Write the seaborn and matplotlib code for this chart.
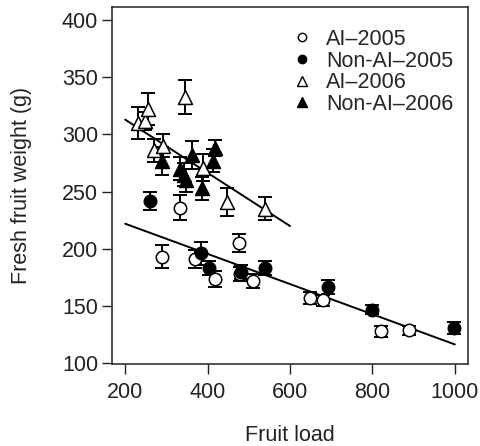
import numpy as np
import pandas as pd
import matplotlib
matplotlib.use("Agg")
import matplotlib.pyplot as plt
import seaborn as sns
from matplotlib.lines import Line2D

# ── Data ───────────────────────────────────────────────────────
# AI-2005 (open circles)
ai05_load = [289, 332, 370, 418, 476, 478, 511, 648, 681, 820, 888]
ai05_wt = [193, 236, 191, 174, 205, 178, 172, 157, 155, 128, 129]
ai05_err = [10, 11, 8, 7, 8, 6, 6, 5, 5, 5, 4]

# Non-AI-2005 (filled circles)
nai05_load = [261, 384, 404, 481, 540, 693, 800, 998]
nai05_wt = [242, 196, 183, 180, 183, 167, 147, 131]
nai05_err = [8, 10, 6, 6, 6, 6, 4, 5]

# AI-2006 (open triangles)
ai06_load = [232, 248, 255, 271, 293, 344, 390, 446, 540]
ai06_wt = [310, 312, 322, 286, 290, 333, 271, 241, 235]
ai06_err = [14, 8, 14, 10, 10, 15, 12, 12, 10]

# Non-AI-2006 (filled triangles)
nai06_load = [289, 332, 342, 348, 362, 387, 414, 418]
nai06_wt = [277, 270, 265, 260, 282, 253, 277, 288]
nai06_err = [12, 10, 10, 10, 12, 10, 10, 7]

# regression lines (end points)
line05_x = [200, 1000]
line05_y = [222, 116.5]
line06_x = [200, 600]
line06_y = [313, 220]

groups = [
    ("AI\u20132005", ai05_load, ai05_wt, ai05_err, "o", "white"),
    ("Non-AI\u20132005", nai05_load, nai05_wt, nai05_err, "o", "black"),
    ("AI\u20132006", ai06_load, ai06_wt, ai06_err, "^", "white"),
    ("Non-AI\u20132006", nai06_load, nai06_wt, nai06_err, "^", "black"),
]

INK = "#222222"
FS = 15.5

sns.set_theme(style="ticks")
plt.rcParams["font.family"] = ["Liberation Sans", "DejaVu Sans"]

fig = plt.figure(figsize=(4.8, 4.46), dpi=100)
ax = fig.add_axes([0.2333, 0.1839, 0.7417, 0.7993])

for name, xs, ys, es, mk, fc in groups:
    df = pd.DataFrame({"load": xs, "weight": ys})
    ax.errorbar(xs, ys, yerr=es, fmt="none", ecolor="black",
                elinewidth=1.4, capsize=5, capthick=1.4, zorder=2)
    sns.scatterplot(data=df, x="load", y="weight", marker=mk,
                    s=100 if mk == "^" else 80, facecolor=fc,
                    edgecolor="black", linewidth=1.1, ax=ax, zorder=3)

for lx, ly in [(line05_x, line05_y), (line06_x, line06_y)]:
    sns.lineplot(x=lx, y=ly, color="black", linewidth=1.4, ax=ax, zorder=1)

ax.set_xlim(168, 1032)
ax.set_ylim(99.4, 411)
ax.set_xticks([200, 400, 600, 800, 1000])
ax.set_yticks([100, 150, 200, 250, 300, 350, 400])
ax.tick_params(direction="out", length=7, width=1, labelsize=FS, colors=INK)
ax.tick_params(axis="x", pad=6)
ax.tick_params(axis="y", pad=3)
for sp in ax.spines.values():
    sp.set_visible(True)
    sp.set_linewidth(1.1)
    sp.set_color(INK)

ax.set_xlabel("Fruit load", fontsize=FS, color=INK)
ax.set_ylabel("Fresh fruit weight (g)", fontsize=FS, color=INK)
ax.xaxis.set_label_coords(0.5, -0.17)
ax.yaxis.set_label_coords(-0.225, 0.5)

handles = [Line2D([], [], marker=mk, linestyle="none", markersize=6 if mk == "o" else 7,
                  markerfacecolor=fc, markeredgecolor="black", markeredgewidth=1)
           for _, _, _, _, mk, fc in groups]
labels = [g[0] for g in groups]
ax.legend(handles, labels, loc="upper left", bbox_to_anchor=(0.51, 0.94),
          frameon=False, fontsize=FS, handlelength=0.8, handletextpad=0.7,
          labelspacing=0.03, borderaxespad=0.0, borderpad=0.0)

fig.savefig("out.png", dpi=100)
